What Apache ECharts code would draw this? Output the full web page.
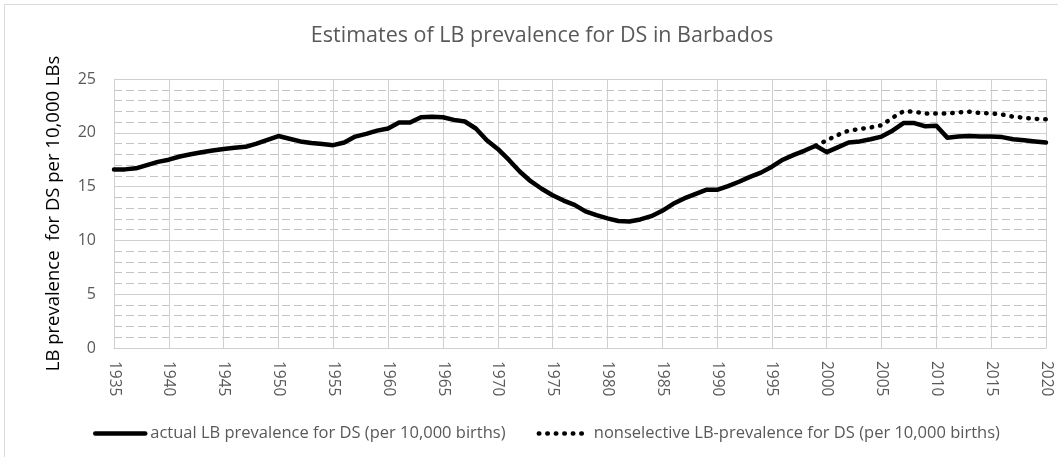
<!DOCTYPE html>
<html>
<head>
<meta charset="utf-8">
<script src="https://cdn.jsdelivr.net/npm/echarts@6/dist/echarts.min.js"></script>
<style>
  html, body { margin: 0; padding: 0; background: #fff; }
  #chart { width: 1058px; height: 457px; }
</style>
</head>
<body>
<div id="chart"></div>
<script>
// years on the category axis
const years = [
  '1935','1936','1937','1938','1939','1940','1941','1942','1943','1944',
  '1945','1946','1947','1948','1949','1950','1951','1952','1953','1954',
  '1955','1956','1957','1958','1959','1960','1961','1962','1963','1964',
  '1965','1966','1967','1968','1969','1970','1971','1972','1973','1974',
  '1975','1976','1977','1978','1979','1980','1981','1982','1983','1984',
  '1985','1986','1987','1988','1989','1990','1991','1992','1993','1994',
  '1995','1996','1997','1998','1999','2000','2001','2002','2003','2004',
  '2005','2006','2007','2008','2009','2010','2011','2012','2013','2014',
  '2015','2016','2017','2018','2019','2020'
];

// actual LB prevalence, 1935-2020
const actualPrevalence = [
  16.6, 16.6, 16.7, 17.0, 17.3, 17.5, 17.8, 18.0, 18.2, 18.35,
  18.5, 18.6, 18.7, 19.0, 19.35, 19.7, 19.45, 19.2, 19.05, 18.95,
  18.85, 19.1, 19.65, 19.9, 20.2, 20.4, 20.95, 20.95, 21.45, 21.5,
  21.45, 21.2, 21.05, 20.4, 19.3, 18.5, 17.5, 16.4, 15.5, 14.8,
  14.2, 13.7, 13.3, 12.7, 12.35, 12.05, 11.8, 11.75, 11.95, 12.25,
  12.75, 13.4, 13.9, 14.3, 14.7, 14.7, 15.05, 15.45, 15.9, 16.3,
  16.85, 17.5, 17.95, 18.35, 18.8, 18.2, 18.65, 19.1, 19.2, 19.4,
  19.65, 20.2, 20.9, 20.9, 20.6, 20.65, 19.55, 19.65, 19.7, 19.65,
  19.65, 19.6, 19.4, 19.3, 19.2, 19.1
];

// nonselective LB prevalence, only from 1999
const nonselectiveStart = '1999';
const nonselectivePrevalence = [
  18.8, 19.3, 19.8, 20.2, 20.35, 20.5, 20.7, 21.4, 22.0, 21.95,
  21.8, 21.8, 21.8, 21.9, 21.95, 21.85, 21.8, 21.7, 21.5, 21.4,
  21.3, 21.25
];

const seriesNames = [
  'actual LB prevalence for DS (per 10,000 births)',
  'nonselective LB-prevalence for DS (per 10,000 births)'
];

const yTicks = [0, 5, 10, 15, 20, 25];

const chart = echarts.init(document.getElementById('chart'));

const startIdx = years.indexOf(nonselectiveStart);
const nonselectiveData = years.map((y, i) =>
  i < startIdx ? null : nonselectivePrevalence[i - startIdx]);

const font = '"Open Sans", "Noto Sans", sans-serif';
const gridColor = '#d0d0d0';
const everyFifth = i => i % 5 === 0;

const option = {
  animation: false,
  textStyle: { fontFamily: font },
  graphic: [{
    type: 'rect',
    shape: { x: 4.5, y: 4.5, width: 1070, height: 470 },
    style: { fill: 'none', stroke: '#d9d9d9', lineWidth: 1 },
    silent: true
  }],
  title: {
    text: 'Estimates of LB prevalence for DS in Barbados',
    left: 537,
    textAlign: 'center',
    top: 20,
    textStyle: {
      fontFamily: font,
      fontSize: 21.5,
      fontWeight: 'normal',
      color: '#595959'
    }
  },
  legend: {
    data: seriesNames,
    left: 88,
    top: 420,
    itemWidth: 50,
    itemHeight: 14,
    itemGap: 31,
    itemStyle: { opacity: 0 },
    lineStyle: { width: 4.5 },
    textStyle: { fontFamily: font, fontSize: 16.5, color: '#595959' }
  },
  grid: { left: 114, right: 12, top: 79, bottom: 109 },
  xAxis: {
    type: 'category',
    data: years,
    boundaryGap: false,
    axisLine: { show: true, lineStyle: { color: gridColor } },
    axisTick: { show: false },
    axisLabel: {
      interval: (i) => everyFifth(i),
      rotate: -90,
      margin: 13,
      fontFamily: font,
      fontSize: 15.5,
      color: '#595959'
    },
    splitLine: {
      show: true,
      interval: (i) => everyFifth(i),
      lineStyle: { color: gridColor, width: 1 }
    }
  },
  yAxis: {
    type: 'value',
    min: yTicks[0],
    max: yTicks[yTicks.length - 1],
    interval: 5,
    name: 'LB prevalence  for DS per 10,000 LBs',
    nameLocation: 'middle',
    nameGap: 51,
    nameTextStyle: { fontFamily: font, fontSize: 18.5, color: '#000' },
    axisLine: { show: true, lineStyle: { color: gridColor } },
    axisTick: { show: false },
    axisLabel: { margin: 18, fontFamily: font, fontSize: 16, color: '#595959' },
    splitLine: { show: true, lineStyle: { color: gridColor, width: 1 } },
    minorTick: { show: false, splitNumber: 5 },
    minorSplitLine: {
      show: true,
      lineStyle: { color: '#c4c4c4', width: 1, type: [8, 4] }
    }
  },
  series: [
    {
      name: seriesNames[0],
      type: 'line',
      data: actualPrevalence,
      symbol: 'none',
      z: 3,
      lineStyle: { color: '#000', width: 4.5, join: 'round', cap: 'round' },
      itemStyle: { color: '#000' }
    },
    {
      name: seriesNames[1],
      type: 'line',
      data: nonselectiveData,
      symbol: 'none',
      z: 2,
      lineStyle: { color: '#000', width: 4.5, type: [0.5, 8], cap: 'round' },
      itemStyle: { color: '#000' }
    }
  ]
};

chart.setOption(option);
window.addEventListener('resize', () => chart.resize());
</script>
</body>
</html>
